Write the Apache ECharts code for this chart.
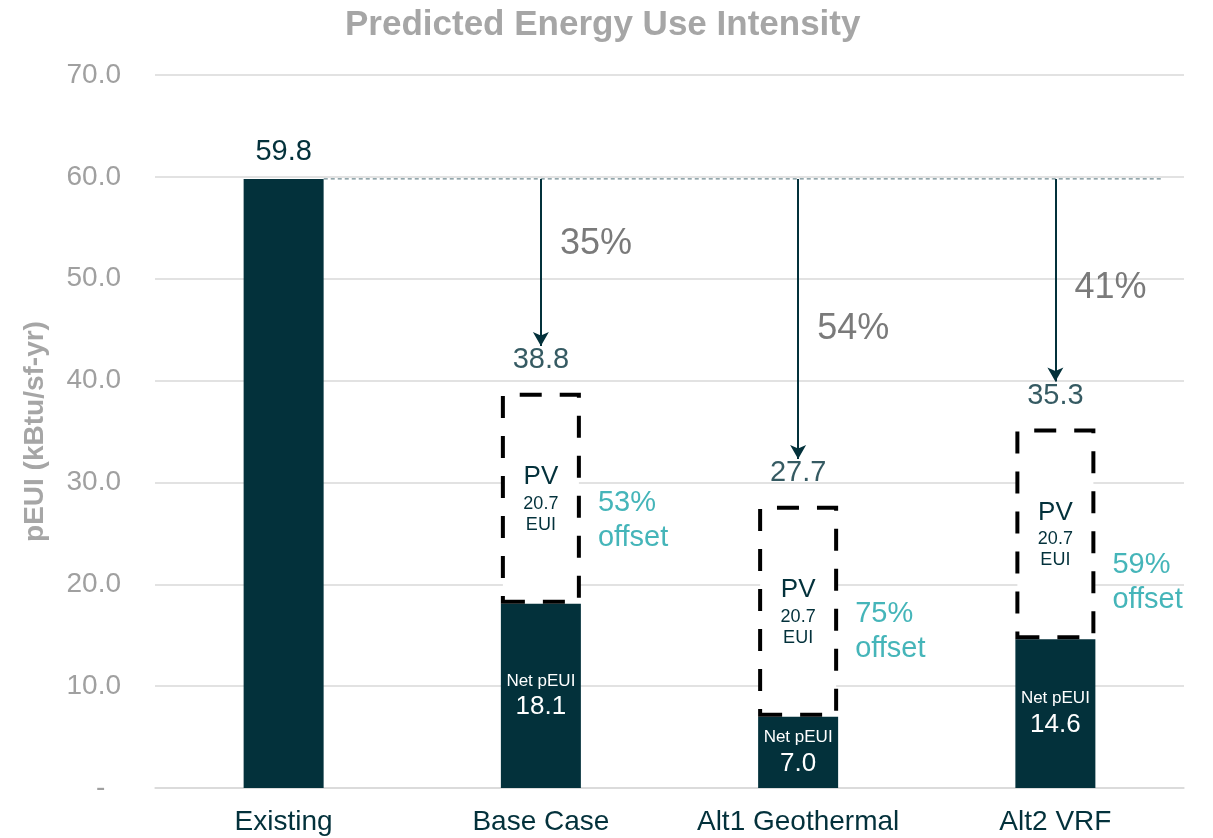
<!DOCTYPE html>
<html>
<head>
<meta charset="utf-8">
<title>Predicted Energy Use Intensity</title>
<script src="https://cdn.jsdelivr.net/npm/echarts@6/dist/echarts.min.js"></script>
<style>
  html, body { margin: 0; padding: 0; background: #fff; }
  #main { width: 1213px; height: 838px; }
</style>
</head>
<body>
<div id="main"></div>
<script>
// categories and values
var categories = ['Existing', 'Base Case', 'Alt1 Geothermal', 'Alt2 VRF'];
var existingEui = 59.8;
var netEui = ['-', 18.1, 7.0, 14.6];
var pvEui = ['-', 20.7, 20.7, 20.7];
var reductionText = ['', '35%', '54%', '41%'];
var offsetText = ['', '53%', '75%', '59%'];
var yTicks = [0, 10, 20, 30, 40, 50, 60, 70];

// layout bits (not data)
var dark = '#03313b';
var teal = '#17a2a8';
var arrowGap = 4.6;               // arrow tip sits this far above total label
var pctDy = [0, -18, 10, 8];      // nudge of the % reduction labels (px)
var offsetDy = [0, 22, 20, 49];   // nudge of the "offset" labels (px)

var totals = netEui.map(function (v, i) {
  return v === '-' ? '-' : +(v + pvEui[i]).toFixed(1);
});

var chart = echarts.init(document.getElementById('main'));
var font = 'Liberation Sans, Arial, sans-serif';

// arrows from the existing level down to each total
var arrows = [];
var pctData = [];
var offData = [];
for (var i = 1; i < categories.length; i++) {
  var tip = totals[i] + arrowGap;
  arrows.push([
    { coord: [categories[i], existingEui] },
    { coord: [categories[i], tip] }
  ]);
  pctData.push({
    value: [categories[i], (existingEui + tip) / 2],
    name: reductionText[i],
    label: { offset: [19, pctDy[i]] }
  });
  offData.push({
    value: [categories[i], netEui[i] + pvEui[i] / 2],
    name: offsetText[i],
    label: { offset: [57, offsetDy[i]] }
  });
}

var option = {
  animation: false,
  backgroundColor: '#fff',
  textStyle: { fontFamily: font },
  title: {
    text: 'Predicted Energy Use Intensity',
    left: 340,
    top: 3,
    textStyle: { color: '#a6a6a6', fontSize: 35, fontWeight: 'bold', fontFamily: font }
  },
  grid: { left: 155, right: 29, top: 75, bottom: 50 },
  xAxis: [{
    type: 'category',
    data: categories,
    axisLine: { lineStyle: { color: '#d9d9d9', width: 1.5 } },
    axisTick: { show: false },
    axisLabel: { color: dark, fontSize: 28, margin: 20, interval: 0, fontFamily: font }
  }, {
    type: 'value', min: 0, max: 4, show: false
  }],
  yAxis: {
    type: 'value',
    min: yTicks[0],
    max: yTicks[yTicks.length - 1],
    interval: 10,
    name: 'pEUI (kBtu/sf-yr)',
    nameLocation: 'middle',
    nameGap: 106,
    nameTextStyle: { color: '#a6a6a6', fontSize: 28, fontWeight: 'bold', fontFamily: font },
    axisLine: { show: false },
    axisTick: { show: false },
    splitLine: { lineStyle: { color: '#d9d9d9', width: 1.5 } },
    axisLabel: {
      color: '#a0a0a0', fontSize: 28, margin: 34, fontFamily: font,
      formatter: function (v) { return v === 0 ? '-  ' : v.toFixed(1); }
    }
  },
  series: [{
    name: 'Existing',
    type: 'bar',
    stack: 'eui',
    barWidth: 80,
    data: [existingEui, '-', '-', '-'],
    itemStyle: { color: dark },
    label: {
      show: true, position: 'top', distance: 12,
      color: dark, fontSize: 29, fontFamily: font,
      formatter: function (p) { return p.value.toFixed(1); }
    }
  }, {
    name: 'Net pEUI',
    type: 'bar',
    stack: 'eui',
    barWidth: 80,
    data: netEui,
    itemStyle: { color: dark },
    label: {
      show: true, position: 'inside',
      formatter: function (p) { return '{a|Net pEUI}\n{b|' + p.value.toFixed(1) + '}'; },
      rich: {
        a: { color: '#fff', fontSize: 17, lineHeight: 23, fontFamily: font },
        b: { color: '#fff', fontSize: 26, lineHeight: 30, fontFamily: font }
      }
    }
  }, {
    name: 'PV',
    type: 'bar',
    stack: 'eui',
    barWidth: 80,
    data: pvEui,
    itemStyle: {
      color: '#fff',
      borderColor: '#000',
      borderWidth: 4,
      borderType: [22, 18]
    },
    label: {
      show: true, position: 'inside',
      formatter: function (p) { return '{a|PV}\n{b|' + p.value.toFixed(1) + '}\n{b|EUI}'; },
      rich: {
        a: { color: dark, fontSize: 26, lineHeight: 32, fontFamily: font },
        b: { color: dark, fontSize: 18, lineHeight: 21, fontFamily: font }
      }
    }
  }, {
    name: 'Total',
    type: 'scatter',
    symbolSize: 0,
    data: totals,
    label: {
      show: true, position: 'top', distance: 18,
      color: dark, fontSize: 29, fontFamily: font,
      formatter: function (p) { return p.value.toFixed(1); }
    },
    markLine: {
      silent: true,
      symbol: ['none', 'arrow'],
      symbolSize: [12, 14],
      lineStyle: { color: dark, width: 2, type: 'solid' },
      label: { show: false },
      data: arrows
    }
  }, {
    name: 'Reduction',
    type: 'scatter',
    symbolSize: 0,
    data: pctData,
    label: {
      show: true, position: 'inside', align: 'left',
      color: '#595959', fontSize: 36, fontFamily: font,
      formatter: '{b}'
    }
  }, {
    name: 'Offset',
    type: 'scatter',
    symbolSize: 0,
    data: offData,
    label: {
      show: true, position: 'inside', align: 'left',
      color: teal, fontSize: 29, lineHeight: 35, fontFamily: font,
      formatter: '{b}\noffset'
    }
  }, {
    name: 'Existing level',
    type: 'line',
    xAxisIndex: 1,
    symbol: 'none',
    data: [[0.656, existingEui], [3.91, existingEui]],
    lineStyle: { color: '#4d6f77', width: 1, type: [4, 3] }
  }]
};

chart.setOption(option);
</script>
</body>
</html>
